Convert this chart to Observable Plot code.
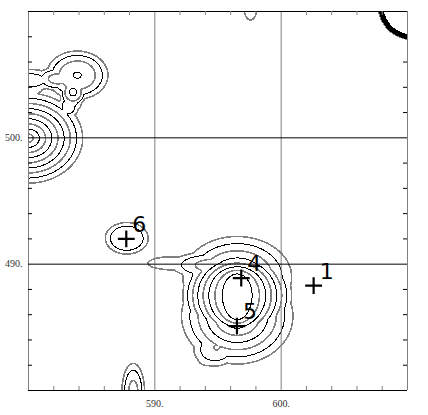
<!DOCTYPE html>
<html><head><meta charset="utf-8">
<script src="https://cdn.jsdelivr.net/npm/d3@7"></script>
<script src="https://cdn.jsdelivr.net/npm/@observablehq/plot@0.6"></script>
<style>html,body{margin:0;padding:0;background:#fff;}</style>
</head><body><div id="chart"></div>
<script>
// Peaks of the contoured surface
const peakX  = [579.98, 583.86, 579.98, 583.46, 596.52, 596.52, 591.37, 594.17, 587.78, 588.29, 597.57, 610.38];
const peakY  = [499.97, 504.96, 504.56, 502.97, 488.96, 485.88, 490.07, 482.55, 492.05, 479.86, 510.26, 510.48];
const peakRX = [4.8, 2.8, 2.77, 1.0, 5.07, 5.07, 3.3, 1.6, 1.97, 1.07, 0.95, 2.73];
const peakRY = [3.96, 2.2, 1.1, 1.2, 3.8, 4.35, 0.9, 1.2, 1.45, 2.73, 1.74, 2.73];
const peakH  = [9.8, 4.05, 2.6, 2.5, 6.7, 7.68, 1.5, 1.3, 2.8, 3.4, 1.4, 69];
const peakP  = [1, 2, 2, 2, 1, 1, 2, 2, 3, 2, 2, 1];

const greyLevels  = [1, 3, 5, 7, 9];
const blackLevels = [2, 4, 6, 8, 10];

const markerLabel = ["1", "4", "5", "6"];
const markerX = [602.57, 596.84, 596.5, 587.74];
const markerY = [488.3, 488.9, 485.1, 492.0];

const labelTicksX = [590, 600];
const labelTicksY = [490, 500];
const minorTicksX = [582, 584, 586, 588, 592, 594, 596, 598, 602, 604, 606, 608];
const minorTicksY = [482, 484, 486, 488, 492, 494, 496, 498, 502, 504, 506, 508];
const frameX = [580, 610];
const frameY = [480, 510];
const gridX = [590, 600];
const gridY = [490, 500];

const GREY = "#808080";

function field(x, y) {
  let s = 0;
  for (let i = 0; i < peakX.length; i++) {
    const dx = (x - peakX[i]) / peakRX[i];
    const dy = (y - peakY[i]) / peakRY[i];
    const r = Math.sqrt(dx * dx + dy * dy);
    if (r < 1) s += peakH[i] * (1 - Math.pow(r, peakP[i]));
  }
  return s;
}

const markers = markerLabel.map((label, i) => ({label, x: markerX[i], y: markerY[i]}));
const area = {x1: 580, x2: 610, y1: 480, y2: 510, pixelSize: 1, shapeRendering: "crispEdges"};

const chart = Plot.plot({
  width: 428, height: 415,
  marginLeft: 28, marginRight: 21, marginTop: 11, marginBottom: 25,
  x: {domain: [580, 610]},
  y: {domain: [480, 510]},
  style: {background: "#fff"},
  marks: [
    Plot.contour(undefined, {...area, value: field, thresholds: greyLevels, stroke: GREY, strokeWidth: 1.6}),
    Plot.contour(undefined, {...area, value: field, thresholds: blackLevels, stroke: "black", strokeWidth: 1}),
    Plot.ruleX(frameX.concat(gridX), {stroke: GREY}),
    Plot.ruleY(frameY.concat(gridY), {stroke: "black"}),
    Plot.gridX(minorTicksX, {stroke: GREY, strokeOpacity: 1, insetTop: 375}),
    Plot.gridX(minorTicksX, {stroke: GREY, strokeOpacity: 1, insetBottom: 375}),
    Plot.gridY(minorTicksY, {stroke: "black", strokeOpacity: 1, insetRight: 375}),
    Plot.gridY(minorTicksY, {stroke: "black", strokeOpacity: 1, insetLeft: 375}),
    Plot.axisX(labelTicksX, {anchor: "bottom", label: null, tickSize: 0, tickPadding: 9, tickFormat: d => d + ".", fontFamily: "Liberation Serif", fontSize: 10, fill: "#333"}),
    Plot.axisY(labelTicksY, {anchor: "left", label: null, tickSize: 0, tickPadding: 6, tickFormat: d => d + ".", fontFamily: "Liberation Serif", fontSize: 10, fill: "#333"}),
    Plot.dot(markers, {x: "x", y: "y", symbol: "plus", r: 5.5, stroke: "black", strokeWidth: 2.2}),
    Plot.text(markers, {x: "x", y: "y", text: "label", dx: 13, dy: -14, fontFamily: "DejaVu Sans", fontSize: 22, fill: "black"})
  ]
});
document.getElementById("chart").append(chart);
</script></body></html>
